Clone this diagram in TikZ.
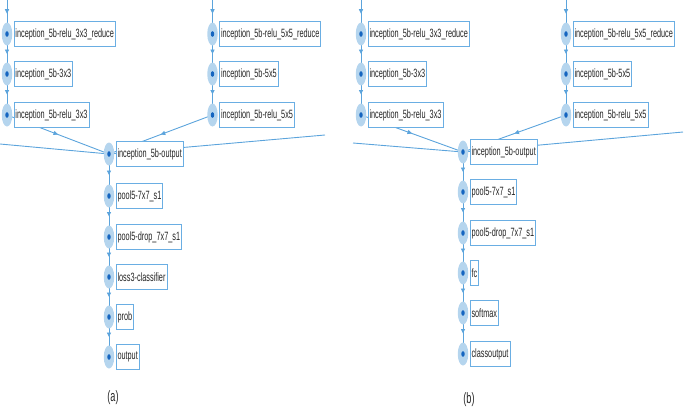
\documentclass[tikz,border=0pt]{standalone}
\usepackage{fontspec}
\setmainfont{Liberation Sans}[FakeStretch=0.61]
\usetikzlibrary{arrows.meta,shapes.geometric,decorations.markings,backgrounds}
\definecolor{mkfill}{HTML}{B5D5EE}
\definecolor{dotblue}{HTML}{1565C0}
\definecolor{boxblue}{HTML}{6AAEE3}
\definecolor{edgeblue}{HTML}{5CA4DC}
\tikzset{
  mk/.style={ellipse, minimum width=10.5pt, minimum height=23pt, inner sep=0pt, fill=mkfill,
    path picture={\fill[dotblue] (path picture bounding box.center) ellipse (1.7pt and 2.8pt);}},
  lbl/.style={draw=boxblue, line width=1pt, fill=white, anchor=west, inner xsep=1.5pt,
    minimum height=25pt, font=\fontsize{12}{13}\selectfont, text=black!85},
  conn/.style={draw=edgeblue, line width=0.9pt, postaction={decorate},
    decoration={markings, mark=at position #1 with {\arrow{Triangle[width=4.2pt,length=4.5pt]}}}},
  conn/.default=0.5,
  plainline/.style={draw=edgeblue, line width=0.9pt},
  captext/.style={font=\fontsize{15}{17}\selectfont, text=black!85}
}
\begin{document}
\begin{tikzpicture}[x=1pt,y=-1pt]
\useasboundingbox (0,0) rectangle (685,415);
% ---------- panel (a) ----------
\node[mk] (a1) at (7,34) {};   \node[lbl] (a1t) at ([xshift=6.5pt]a1.center) {inception\_5b-relu\_3x3\_reduce};
\node[mk] (a2) at (7,74) {};   \node[lbl] (a2t) at ([xshift=6.5pt]a2.center) {inception\_5b-3x3};
\node[mk] (a3) at (7,115) {};  \node[lbl] (a3t) at ([xshift=6.5pt]a3.center) {inception\_5b-relu\_3x3};
\node[mk] (a4) at (212.5,34) {};  \node[lbl] (a4t) at ([xshift=6.5pt]a4.center) {inception\_5b-relu\_5x5\_reduce};
\node[mk] (a5) at (212.5,74) {};  \node[lbl] (a5t) at ([xshift=6.5pt]a5.center) {inception\_5b-5x5};
\node[mk] (a6) at (212.5,115) {}; \node[lbl] (a6t) at ([xshift=6.5pt]a6.center) {inception\_5b-relu\_5x5};
\node[mk] (a7) at (109,154) {};  \node[lbl] (a7t) at ([xshift=6.5pt]a7.center) {inception\_5b-output};
\node[mk] (a8) at (109,196) {};  \node[lbl] (a8t) at ([xshift=6.5pt]a8.center) {pool5-7x7\_s1};
\node[mk] (a9) at (109,237) {};  \node[lbl] (a9t) at ([xshift=6.5pt]a9.center) {pool5-drop\_7x7\_s1};
\node[mk] (a10) at (109,277) {}; \node[lbl] (a10t) at ([xshift=6.5pt]a10.center) {loss3-classifier};
\node[mk] (a11) at (109,317) {}; \node[lbl] (a11t) at ([xshift=6.5pt]a11.center) {prob};
\node[mk] (a12) at (109,357) {}; \node[lbl] (a12t) at ([xshift=6.5pt]a12.center) {output};
\node[captext] (acap) at (113,398) {(a)};
\coordinate (a0l) at (7,0);
\coordinate (a0r) at (212.5,0);
\coordinate (aL) at (0,144);
\coordinate (aR) at (325,135);
% ---------- panel (b) ----------
\node[mk] (b1) at (361,34) {};   \node[lbl] (b1t) at ([xshift=6.5pt]b1.center) {inception\_5b-relu\_3x3\_reduce};
\node[mk] (b2) at (361,74) {};   \node[lbl] (b2t) at ([xshift=6.5pt]b2.center) {inception\_5b-3x3};
\node[mk] (b3) at (361,115) {};  \node[lbl] (b3t) at ([xshift=6.5pt]b3.center) {inception\_5b-relu\_3x3};
\node[mk] (b4) at (566,34) {};   \node[lbl] (b4t) at ([xshift=6.5pt]b4.center) {inception\_5b-relu\_5x5\_reduce};
\node[mk] (b5) at (566,74) {};   \node[lbl] (b5t) at ([xshift=6.5pt]b5.center) {inception\_5b-5x5};
\node[mk] (b6) at (566,115) {};  \node[lbl] (b6t) at ([xshift=6.5pt]b6.center) {inception\_5b-relu\_5x5};
\node[mk] (b7) at (463,152) {};  \node[lbl] (b7t) at ([xshift=6.5pt]b7.center) {inception\_5b-output};
\node[mk] (b8) at (463,192) {};  \node[lbl] (b8t) at ([xshift=6.5pt]b8.center) {pool5-7x7\_s1};
\node[mk] (b9) at (463,233) {};  \node[lbl] (b9t) at ([xshift=6.5pt]b9.center) {pool5-drop\_7x7\_s1};
\node[mk] (b10) at (463,273) {}; \node[lbl] (b10t) at ([xshift=6.5pt]b10.center) {fc};
\node[mk] (b11) at (463,313) {}; \node[lbl] (b11t) at ([xshift=6.5pt]b11.center) {softmax};
\node[mk] (b12) at (463,354) {}; \node[lbl] (b12t) at ([xshift=6.5pt]b12.center) {classoutput};
\node[captext] (bcap) at (469,400) {(b)};
\coordinate (b0l) at (361,0);
\coordinate (b0r) at (566,0);
\coordinate (bL) at (353,143);
\coordinate (bR) at (683,132);
% ---------- connectors ----------
\begin{scope}[on background layer]
  \foreach \p in {a,b}{
    \path[conn=0.4] (\p0l) -- (\p1.center);
    \path[conn] (\p1.center) -- (\p2.center);
    \path[conn] (\p2.center) -- (\p3.center);
    \path[conn=0.4] (\p0r) -- (\p4.center);
    \path[conn] (\p4.center) -- (\p5.center);
    \path[conn] (\p5.center) -- (\p6.center);
    \path[conn] (\p3.center) -- (\p7.center);
    \path[conn] (\p6.center) -- (\p7.center);
    \path[plainline] (\p L) -- (\p7.center);
    \path[plainline] (\p R) -- (\p7.center);
    \path[conn] (\p7.center) -- (\p8.center);
    \path[conn] (\p8.center) -- (\p9.center);
    \path[conn] (\p9.center) -- (\p10.center);
    \path[conn] (\p10.center) -- (\p11.center);
    \path[conn] (\p11.center) -- (\p12.center);
  }
\end{scope}
\end{tikzpicture}
\end{document}
